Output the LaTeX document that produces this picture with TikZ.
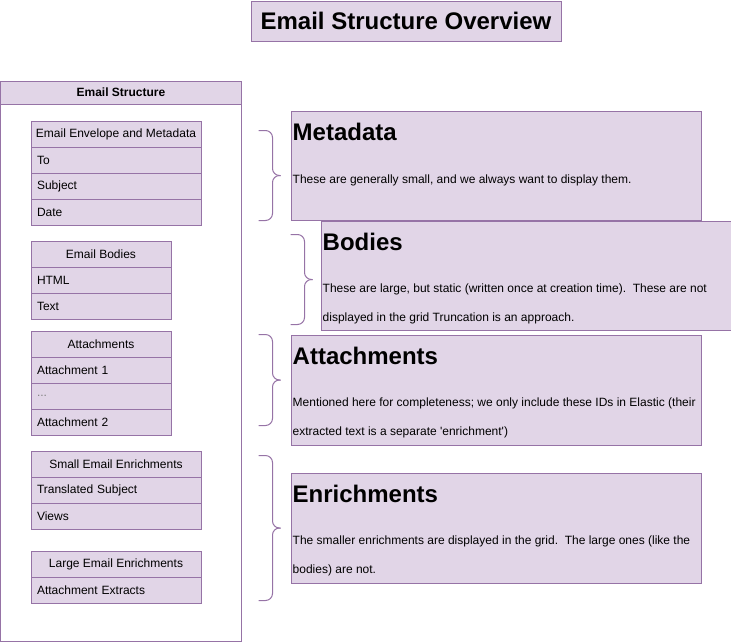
\documentclass[tikz,border=0pt]{standalone}
\usepackage{fontspec}
\setmainfont{Liberation Sans}
\definecolor{lilac}{HTML}{E1D5E7}
\definecolor{plum}{HTML}{9673A6}
\tikzset{
  box/.style={draw=plum, fill=lilac, line width=1pt, inner sep=0pt, anchor=north west},
  cell/.style={box, minimum height=26pt, font=\fontsize{12}{14}\selectfont},
  head/.style={cell, minimum width=#1},
  row/.style={cell, text width=#1, inner xsep=6pt, align=left},
  heading/.style={anchor=west, inner sep=0pt, font=\fontsize{24}{28}\selectfont\bfseries},
  note/.style={anchor=west, inner sep=0pt, font=\fontsize{12}{14}\selectfont},
  brace/.style={draw=plum, line width=1pt, rounded corners=7pt},
}
\begin{document}
\begin{tikzpicture}[x=1pt,y=-1pt]
\useasboundingbox (-0.5,-0.5) rectangle (730.5,640.5);
\node[box, minimum width=310pt, minimum height=40pt, font=\fontsize{24}{28}\selectfont\bfseries] (title) at (250,0) {Email Structure Overview};
% left side: the structure
\node[box, fill=white, minimum width=240pt, minimum height=560pt] (frame) at (0,80) {};
\node[box, minimum width=240pt, minimum height=23pt, font=\fontsize{12}{14}\selectfont\bfseries] (framehead) at (0,80) {Email Structure};
\node[head=170pt] (env) at (30,120) {Email Envelope and Metadata};
\node[row=158pt] (to) at (30,146) {To};
\node[row=158pt] (subject) at (30,172) {Subject};
\node[row=158pt] (date) at (30,198) {Date};
\node[head=140pt] (bodies) at (30,240) {Email Bodies};
\node[row=128pt] (html) at (30,266) {HTML};
\node[row=128pt] (plain) at (30,292) {Text};
\node[head=140pt] (att) at (30,330) {Attachments};
\node[row=128pt] (attA) at (30,356) {Attachment 1};
\node[row=128pt, text=gray] (attdots) at (30,382) {...};
\node[row=128pt] (attB) at (30,408) {Attachment 2};
\node[head=170pt] (small) at (30,450) {Small Email Enrichments};
\node[row=158pt] (transl) at (30,476) {Translated Subject};
\node[row=158pt] (views) at (30,502) {Views};
\node[head=170pt] (large) at (30,550) {Large Email Enrichments};
\node[row=158pt] (extracts) at (30,576) {Attachment Extracts};
% braces
\foreach \x/\ya/\yb in {258/130/220, 290/234/324, 258/334/425, 258/455/600} {
  \draw[brace] (\x,\ya) -| (\x+14,{(\ya+\yb)/2}) -- (\x+22,{(\ya+\yb)/2});
  \draw[brace] (\x,\yb) -| (\x+14,{(\ya+\yb)/2}) -- (\x+22,{(\ya+\yb)/2});
}
% right side: the notes
\node[box, minimum width=410pt, minimum height=109pt] (metabox) at (290,110) {};
\node[heading] (metahead) at (292,131) {Metadata};
\node[note] (metanote) at (292,180) {These are generally small, and we always want to display them.};
\node[box, minimum width=410pt, minimum height=109pt] (bodybox) at (320,220) {};
\node[heading] (bodyhead) at (322,241) {Bodies};
\node[note] (bodynoteA) at (322,289) {These are large, but static (written once at creation time).\ \ These are not};
\node[note] (bodynoteB) at (322,318) {displayed in the grid Truncation is an approach.};
\node[box, minimum width=410pt, minimum height=110pt] (attbox) at (290,334) {};
\node[heading] (atthead) at (292,355) {Attachments};
\node[note] (attnoteA) at (292,403) {Mentioned here for completeness; we only include these IDs in Elastic (their};
\node[note] (attnoteB) at (292,432) {extracted text is a separate \textquotesingle enrichment\textquotesingle)};
\node[box, minimum width=410pt, minimum height=110pt] (enrbox) at (290,472) {};
\node[heading] (enrhead) at (292,493) {Enrichments};
\node[note] (enrnoteA) at (292,541) {The smaller enrichments are displayed in the grid.\ \ The large ones (like the};
\node[note] (enrnoteB) at (292,570) {bodies) are not.};
\end{tikzpicture}
\end{document}
